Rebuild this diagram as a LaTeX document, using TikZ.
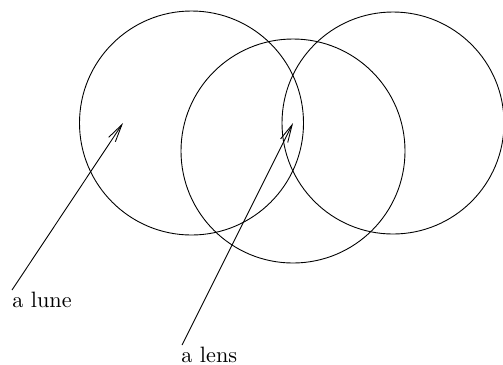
\documentclass[tikz,border=0pt]{standalone}
\usetikzlibrary{arrows.meta}
\begin{document}
\begin{tikzpicture}[x=0.45pt,y=-0.45pt,
  ring/.style={draw=black,line width=0.4pt},
  pointer/.style={draw=black,line width=0.4pt,-{Straight Barb[length=8pt,width=3.6pt]}},
  lbl/.style={anchor=base west,inner sep=0pt}]
\useasboundingbox (0,0) rectangle (503,364);
\coordinate (cl) at (191.5,123);
\coordinate (cm) at (293,151);
\coordinate (cr) at (393,123);
\draw[ring] (cl) circle[radius=112];
\draw[ring] (cm) circle[radius=112];
\draw[ring] (cr) circle[radius=111];
\node[lbl] (lune) at (12,307) {a lune};
\node[lbl] (lens) at (181,362) {a lens};
\coordinate (lunetail) at (12,290);
\coordinate (lunetip) at (123,123);
\coordinate (lenstail) at (182,345);
\coordinate (lenstip) at (293,123);
\draw[pointer] (lunetail) -- (lunetip);
\draw[pointer] (lenstail) -- (lenstip);
\end{tikzpicture}
\end{document}
